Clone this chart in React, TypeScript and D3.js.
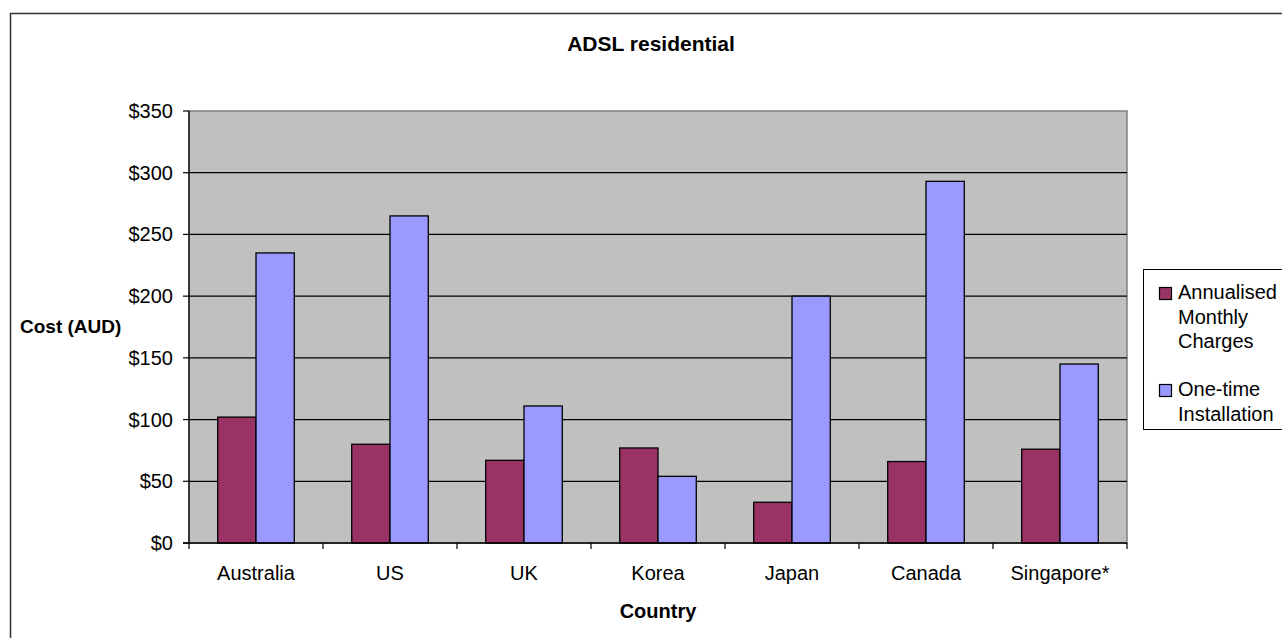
import React from "react";
import * as d3 from "d3";

// ADSL residential pricing by country (AUD)
const categories = ["Australia", "US", "UK", "Korea", "Japan", "Canada", "Singapore*"];
const seriesNames = ["Annualised Monthly Charges", "One-time Installation"];
const monthlyCharges = [102, 80, 67, 77, 33, 66, 76];
const installation = [235, 265, 111, 54, 200, 293, 145];
const yTickValues = [0, 50, 100, 150, 200, 250, 300, 350];
const legendLines = [["Annualised", "Monthly", "Charges"], ["One-time", "Installation"]];

const colors = ["#993366", "#9999FF"];
const FONT = "'Liberation Sans', Arial, sans-serif";

export default function App() {
  const W = 1282;
  const H = 638;
  const plot = { left: 189, right: 1127, top: 111, bottom: 543 };

  const x = d3.scaleBand<string>().domain(categories).range([plot.left, plot.right]).paddingInner(0).paddingOuter(0);
  const xInner = d3
    .scaleBand<number>()
    .domain([0, 1])
    .range([0, x.bandwidth()])
    .paddingInner(0)
    .paddingOuter(0.75);
  const y = d3.scaleLinear().domain([0, 350]).range([plot.bottom, plot.top]);

  const series = [monthlyCharges, installation];
  const boundaries = categories.map((c) => x(c) as number).concat([plot.right]);

  return (
    <svg
      width={W}
      height={H}
      style={{ position: "absolute", left: 0, top: 0, background: "#fff" }}
      fontFamily={FONT}
    >
      {/* chart frame */}
      <rect x={10.5} y={13.5} width={W + 10} height={H + 10} fill="#fff" stroke="#333" strokeWidth={1.5} />

      <text x={651} y={51} textAnchor="middle" fontWeight="bold" fontSize={21}>
        ADSL residential
      </text>

      {/* plot area */}
      <rect
        x={plot.left}
        y={plot.top}
        width={plot.right - plot.left}
        height={plot.bottom - plot.top}
        fill="#C0C0C0"
        stroke="#808080"
        strokeWidth={1.5}
      />

      {/* gridlines */}
      {yTickValues.slice(1, -1).map((v) => (
        <line key={"g" + v} x1={plot.left} x2={plot.right} y1={y(v)} y2={y(v)} stroke="#000" strokeWidth={1.2} />
      ))}

      {/* bars */}
      {series.map((vals, si) =>
        vals.map((v, i) => {
          const bx = (x(categories[i]) as number) + (xInner(si) as number);
          return (
            <rect
              key={`b${si}-${i}`}
              x={bx}
              y={y(v)}
              width={xInner.bandwidth()}
              height={y(0) - y(v)}
              fill={colors[si]}
              stroke="#000"
              strokeWidth={1.3}
            />
          );
        })
      )}

      {/* axes */}
      <line x1={plot.left} x2={plot.left} y1={plot.top} y2={plot.bottom} stroke="#000" strokeWidth={1.3} />
      <line x1={plot.left - 6} x2={plot.right} y1={plot.bottom} y2={plot.bottom} stroke="#000" strokeWidth={1.3} />
      {yTickValues.map((v) => (
        <g key={"t" + v}>
          <line x1={plot.left - 6} x2={plot.left} y1={y(v)} y2={y(v)} stroke="#000" strokeWidth={1.2} />
          <text x={173} y={y(v)} dy="0.35em" textAnchor="end" fontSize={20}>
            {d3.format("$,")(v)}
          </text>
        </g>
      ))}
      {boundaries.map((bx, i) => (
        <line key={"xt" + i} x1={bx} x2={bx} y1={plot.bottom} y2={plot.bottom + 6} stroke="#000" strokeWidth={1.2} />
      ))}
      {categories.map((c) => (
        <text key={c} x={(x(c) as number) + x.bandwidth() / 2} y={580} textAnchor="middle" fontSize={20}>
          {c}
        </text>
      ))}

      <text x={(plot.left + plot.right) / 2} y={618} textAnchor="middle" fontWeight="bold" fontSize={20}>
        Country
      </text>
      <text x={20} y={333} textAnchor="start" fontWeight="bold" fontSize={19}>
        Cost (AUD)
      </text>

      {/* legend */}
      <rect x={1143.5} y={269.5} width={160} height={160} fill="#fff" stroke="#000" strokeWidth={1} />
      {legendLines.map((lines, si) => {
        const top = 299 + si * 97;
        return (
          <g key={"l" + si}>
            <rect x={1159.5} y={top - 11.5} width={12} height={12} fill={colors[si]} stroke="#000" strokeWidth={1.2} />
            {lines.map((t, li) => (
              <text key={t} x={1178} y={top + li * 24.5} fontSize={20}>
                {t}
              </text>
            ))}
          </g>
        );
      })}
      <title>{seriesNames.join(" / ")}</title>
    </svg>
  );
}
